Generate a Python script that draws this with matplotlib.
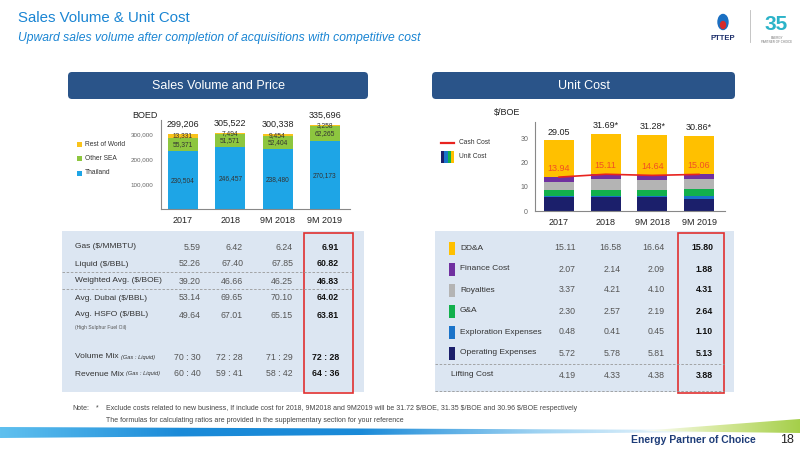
import matplotlib
matplotlib.use("Agg")
import matplotlib.pyplot as plt
from matplotlib.patches import FancyBboxPatch, Rectangle, Ellipse, Polygon
from matplotlib.colors import LinearSegmentedColormap
import numpy as np

plt.rcParams['font.family'] = ['Liberation Sans', 'DejaVu Sans']

# ---------------- data ----------------
periods = ["2017", "2018", "9M 2018", "9M 2019"]

# Sales volume (BOED)
volume_series = ["Rest of World", "Other SEA", "Thailand"]
thailand = [230504, 246457, 238480, 270173]
other_sea = [55371, 51571, 52404, 62265]
rest_world = [13331, 7494, 9454, 3258]
volume_ticks = [100000, 200000, 300000]

# Price table
price_labels = ["Gas ($/MMBTU)", "Liquid ($/BBL)", "Weighted Avg. ($/BOE)",
                "Avg. Dubai ($/BBL)", "Avg. HSFO ($/BBL)"]
gas = [5.59, 6.42, 6.24, 6.91]
liquid = [52.26, 67.40, 67.85, 60.82]
weighted = [39.20, 46.66, 46.25, 46.83]
dubai = [53.14, 69.65, 70.10, 64.02]
hsfo = [49.64, 67.01, 65.15, 63.81]
mix_labels = ["Volume Mix", "Revenue Mix"]
volume_mix = ["70 : 30", "72 : 28", "71 : 29", "72 : 28"]
revenue_mix = ["60 : 40", "59 : 41", "58 : 42", "64 : 36"]

# Unit cost ($/BOE)
cost_labels = ["Operating Expenses", "Exploration Expenses", "G&A",
               "Royalties", "Finance Cost", "DD&A"]
opex = [5.72, 5.78, 5.81, 5.13]
exploration = [0.48, 0.41, 0.45, 1.10]
gna = [2.30, 2.57, 2.19, 2.64]
royalties = [3.37, 4.21, 4.10, 4.31]
finance = [2.07, 2.14, 2.09, 1.88]
dda = [15.11, 16.58, 16.64, 15.80]
lifting = [4.19, 4.33, 4.38, 3.88]
total_mark = ["", "*", "*", "*"]
cost_ticks = [0, 10, 20, 30]

# ---------------- styles ----------------
C_THAI, C_SEA, C_ROW = '#1ea5e6', '#8dc63f', '#f9c31b'
cost_colors = ['#1b1f6b', '#1a73c9', '#12b04c', '#b4b4b4', '#7030a0', '#ffc000']
C_RED = '#e8231f'
C_HDR = '#2a5489'
C_PANEL = '#dce6f2'
C_TXT = '#333333'

W, H = 800, 450
fig = plt.figure(figsize=(8, 4.5), dpi=100)
ov = fig.add_axes([0, 0, 1, 1], zorder=0)
ov.set_xlim(0, W)
ov.set_ylim(H, 0)
ov.axis('off')
renderer = fig.canvas.get_renderer()


def fax(x0, y0, x1, y1):
    return [x0 / W, 1 - y1 / H, (x1 - x0) / W, (y1 - y0) / H]


# ---------------- header ----------------
ov.text(18, 18, "Sales Volume & Unit Cost", color='#1a85d3', fontsize=10.8,
        va='center', ha='left')
ov.text(18, 38, "Upward sales volume after completion of acquisitions with competitive cost",
        color='#1a85d3', fontsize=8.7, style='italic', va='center', ha='left')

# logo
ov.add_patch(Ellipse((723, 22), 10, 15, color='#1a6fc2'))
ov.add_patch(Ellipse((723, 25), 5, 7, color='#d62b2b'))
ov.text(723, 39, "PTTEP", color='#1d2f6b', fontsize=5.5, fontweight='bold',
        ha='center', va='center')
ov.plot([750, 750], [10, 42], color='#bbbbbb', lw=0.6)
ov.text(776, 24, "35", color='#2bb3c8', fontsize=15, fontweight='bold',
        ha='center', va='center')
ov.text(777, 40, "ENERGY\nPARTNER OF CHOICE", color='#777777', fontsize=2.2,
        ha='center', va='center', linespacing=1.0)

# section header boxes
for (x0, x1, title) in [(68, 368, "Sales Volume and Price"), (432, 735, "Unit Cost")]:
    ov.add_patch(FancyBboxPatch((x0, 72), x1 - x0, 27,
                                boxstyle="round,pad=0,rounding_size=4",
                                fc=C_HDR, ec='none'))
    ov.text((x0 + x1) / 2, 86, title, color='white', fontsize=9,
            ha='center', va='center')

# table panels
ov.add_patch(Rectangle((62, 231), 302, 161, fc=C_PANEL, ec='none'))
ov.add_patch(Rectangle((435, 231), 299, 161, fc=C_PANEL, ec='none'))

# ---------------- left chart ----------------
x = np.arange(len(periods))
axL = fig.add_axes(fax(161, 120, 350, 209), zorder=2)
axL.patch.set_alpha(0)
bw = 0.63
th = np.array(thailand)
se = np.array(other_sea)
rw = np.array(rest_world)
axL.bar(x, th, width=bw, color=C_THAI)
axL.bar(x, se, width=bw, bottom=th, color=C_SEA)
axL.bar(x, rw, width=bw, bottom=th + se, color=C_ROW)
for i in range(len(x)):
    axL.text(x[i], th[i] / 2, f"{th[i]:,}", ha='center', va='center', fontsize=4.8, color=C_TXT)
    axL.text(x[i], th[i] + se[i] / 2, f"{se[i]:,}", ha='center', va='center', fontsize=4.8, color=C_TXT)
    axL.text(x[i], th[i] + se[i] + rw[i] / 2, f"{rw[i]:,}", ha='center', va='center', fontsize=4.8, color=C_TXT)
    tot = th[i] + se[i] + rw[i]
    axL.annotate(f"{tot:,}", (x[i], tot), xytext=(0, 7), textcoords='offset points',
                 ha='center', va='center', fontsize=6.5, color='#222222', annotation_clip=False)
axL.set_xlim(-0.465, 3.53)
axL.set_ylim(0, 356000)
axL.set_yticks(volume_ticks)
axL.set_yticklabels([f"{v:,}" for v in volume_ticks], fontsize=4.5, color='#666666')
axL.set_xticks(x)
axL.set_xticklabels(periods, fontsize=6.5, color='#222222')
axL.tick_params(axis='y', length=0, pad=5.5)
axL.tick_params(axis='x', length=0, pad=5)
for s in ['top', 'right']:
    axL.spines[s].set_visible(False)
for s in ['left', 'bottom']:
    axL.spines[s].set_color('#888888')
    axL.spines[s].set_linewidth(0.8)
ov.text(145, 116, "BOED", fontsize=6.5, color='#222222', ha='center', va='center')

vol_colors = [C_ROW, C_SEA, C_THAI]
for k, (name, col) in enumerate(zip(volume_series, vol_colors)):
    yy = 144 + k * 14.5
    ov.add_patch(Rectangle((77, yy - 2.5), 5, 5, fc=col, ec='none'))
    ov.text(85, yy, name, fontsize=4.8, color=C_TXT, ha='left', va='center')

# ---------------- right chart ----------------
axR = fig.add_axes(fax(535, 122, 725, 211), zorder=2)
axR.patch.set_alpha(0)
comps = [np.array(v) for v in [opex, exploration, gna, royalties, finance, dda]]
bottom = np.zeros(len(x))
for comp, col in zip(comps, cost_colors):
    axR.bar(x, comp, width=0.64, bottom=bottom, color=col)
    bottom = bottom + comp
total = bottom
cash = total - comps[-1]
axR.plot(x, cash, color=C_RED, lw=1.2, zorder=3)
for i in range(len(x)):
    axR.annotate(f"{cash[i]:.2f}", (x[i], cash[i]), xytext=(0, 6.5), textcoords='offset points',
                 ha='center', va='center', fontsize=6.5, color='#f25022')
    axR.annotate(f"{total[i]:.2f}{total_mark[i]}", (x[i], total[i]), xytext=(0, 6),
                 textcoords='offset points', ha='center', va='center', fontsize=6.5,
                 color='#222222', annotation_clip=False)
axR.set_xlim(-0.514, 3.557)
axR.set_ylim(0, 36.6)
axR.set_yticks(cost_ticks)
axR.set_yticklabels([str(v) for v in cost_ticks], fontsize=5, color='#666666')
axR.set_xticks(x)
axR.set_xticklabels(periods, fontsize=6.5, color='#222222')
axR.tick_params(axis='y', length=0, pad=5)
axR.tick_params(axis='x', length=0, pad=5)
for s in ['top', 'right']:
    axR.spines[s].set_visible(False)
for s in ['left', 'bottom']:
    axR.spines[s].set_color('#888888')
    axR.spines[s].set_linewidth(0.8)
ov.text(507, 112, "$/BOE", fontsize=6.5, color='#222222', ha='center', va='center')

# right legend
ov.plot([441, 454], [143, 143], color=C_RED, lw=1.6)
ov.text(459, 143, "Cash Cost", fontsize=4.8, color=C_TXT, ha='left', va='center')
for j, col in enumerate([cost_colors[0], cost_colors[1], cost_colors[2], cost_colors[5]]):
    ov.add_patch(Rectangle((441 + j * 3.3, 151), 3.3, 12, fc=col, ec='none'))
ov.text(459, 157, "Unit Cost", fontsize=4.8, color=C_TXT, ha='left', va='center')


def val_text(xx, yy, s, last):
    ov.text(xx, yy, s, fontsize=6.3, ha='right', va='center',
            color='#111111' if last else '#555555',
            fontweight='bold' if last else 'normal')


# ---------------- left table ----------------
colxL = [201, 243, 293, 339]
rowsL = [gas, liquid, weighted, dubai, hsfo]
for r, (lab, vals) in enumerate(zip(price_labels, rowsL)):
    yy = 247 + r * 17
    ov.text(75, yy, lab, fontsize=6, color=C_TXT, ha='left', va='center')
    for c, v in enumerate(vals):
        val_text(colxL[c], yy, f"{v:.2f}", c == 3)
ov.text(75, 327, "(High Sulphur Fuel Oil)", fontsize=3.6, color='#555555', ha='left', va='center')
for r, (lab, vals) in enumerate(zip(mix_labels, [volume_mix, revenue_mix])):
    yy = 357 + r * 17
    t = ov.text(75, yy, lab, fontsize=6, color=C_TXT, ha='left', va='center')
    bb = t.get_window_extent(renderer=renderer)
    ov.text(bb.x1 + 2, yy, "(Gas : Liquid)", fontsize=4.1, style='italic',
            color=C_TXT, ha='left', va='center')
    for c, v in enumerate(vals):
        val_text(colxL[c], yy, v, c == 3)
for yy in [272, 289]:
    ov.plot([62, 353], [yy, yy], color='#999999', lw=0.6, ls=(0, (3, 2)))
ov.add_patch(Rectangle((304, 233), 49, 160, fc='none', ec='#e03030', lw=1.2))

# ---------------- right table ----------------
colxR = [576, 621, 665, 713]
tbl_rows = list(zip(cost_labels, comps, cost_colors))[::-1]
for r, (lab, vals, col) in enumerate(tbl_rows):
    yy = 248 + r * 21
    ov.add_patch(Rectangle((449, yy - 6.5), 5.5, 13, fc=col, ec='none'))
    ov.text(460, yy, lab, fontsize=6, color=C_TXT, ha='left', va='center')
    for c, v in enumerate(vals):
        val_text(colxR[c], yy, f"{v:.2f}", c == 3)
yy = 375
ov.text(451, yy, "Lifting Cost", fontsize=6, color=C_TXT, ha='left', va='center')
for c, v in enumerate(lifting):
    val_text(colxR[c], yy, f"{v:.2f}", c == 3)
for yy in [364, 391]:
    ov.plot([435, 724], [yy, yy], color='#999999', lw=0.6, ls=(0, (3, 2)))
ov.add_patch(Rectangle((678, 233), 46, 160, fc='none', ec='#e03030', lw=1.2))

# ---------------- notes ----------------
ov.text(72, 409, "Note:", fontsize=5, color='#444444', ha='left', va='center')
ov.text(96, 408, "*", fontsize=5, color='#444444', ha='left', va='center')
ov.text(106, 409, "Exclude costs related to new business, If include cost for 2018, 9M2018 and 9M2019 will be "
        "31.72 $/BOE, 31.35 $/BOE and 30.96 $/BOE respectively",
        fontsize=5, color='#444444', ha='left', va='center')
ov.text(106, 420, "The formulas for calculating ratios are provided in the supplementary section for your reference",
        fontsize=5, color='#444444', ha='left', va='center')

# ---------------- footer ----------------
grad = np.linspace(0, 1, 256).reshape(1, -1)
cmap_b = LinearSegmentedColormap.from_list('b', ['#5fc0ef', '#1a8ad8', '#1a8ad8', '#9fd3f2', '#ffffff'])
im = ov.imshow(grad, extent=[0, 720, 438, 427], cmap=cmap_b, aspect='auto', zorder=1)
poly = Polygon([(0, 427), (720, 430), (720, 432), (0, 438)], closed=True, transform=ov.transData)
im.set_clip_path(poly)
cmap_g = LinearSegmentedColormap.from_list('g', ['#ffffff', '#d5e89a', '#a5cf4a'])
im2 = ov.imshow(grad, extent=[640, 800, 433, 419], cmap=cmap_g, aspect='auto', zorder=1)
poly2 = Polygon([(640, 431), (800, 419), (800, 433), (720, 432)], closed=True, transform=ov.transData)
im2.set_clip_path(poly2)
ov.set_xlim(0, W)
ov.set_ylim(H, 0)
ov.text(693, 440, "Energy Partner of Choice", fontsize=7.5, fontweight='bold',
        color='#1d3c78', ha='center', va='center')
ov.text(787, 440, "18", fontsize=9, color='#222222', ha='center', va='center')

fig.savefig("out.png", dpi=100)
